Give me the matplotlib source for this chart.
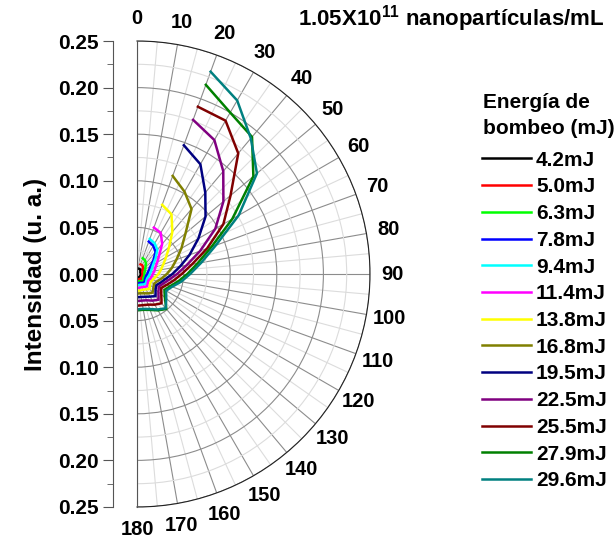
import numpy as np
import matplotlib
matplotlib.use("Agg")
import matplotlib.pyplot as plt
from matplotlib.ticker import FixedLocator, FuncFormatter

plt.rcParams["font.family"] = ["Liberation Sans", "DejaVu Sans"]
plt.rcParams["font.weight"] = "bold"
plt.rcParams["mathtext.fontset"] = "custom"
plt.rcParams["mathtext.rm"] = "Liberation Sans:bold"
plt.rcParams["mathtext.bf"] = "Liberation Sans:bold"

# angle (deg) and intensity (u. a.) for every pump energy
angles = [20, 30, 40, 50, 60, 70, 80, 90, 100, 110, 120, 130, 140, 150, 160, 170, 180]

i_4_2 = [0.006, 0.006, 0.006, 0.005, 0.004, 0.004, 0.004, 0.004, 0.004, 0.004, 0.004, 0.004, 0.004, 0.004, 0.004, 0.004, 0.004]
i_5_0 = [0.011, 0.011, 0.010, 0.008, 0.007, 0.006, 0.006, 0.006, 0.006, 0.006, 0.006, 0.006, 0.007, 0.006, 0.006, 0.006, 0.006]
i_6_3 = [0.018, 0.017, 0.015, 0.012, 0.010, 0.009, 0.008, 0.008, 0.008, 0.008, 0.008, 0.009, 0.010, 0.009, 0.008, 0.008, 0.008]
i_7_8 = [0.037, 0.035, 0.031, 0.023, 0.017, 0.014, 0.012, 0.011, 0.010, 0.010, 0.010, 0.011, 0.012, 0.011, 0.010, 0.010, 0.010]
i_9_4 = [0.040, 0.038, 0.034, 0.026, 0.020, 0.017, 0.015, 0.014, 0.013, 0.012, 0.012, 0.013, 0.014, 0.013, 0.012, 0.012, 0.012]
i_11_4 = [0.053, 0.051, 0.042, 0.031, 0.025, 0.021, 0.019, 0.017, 0.016, 0.015, 0.014, 0.015, 0.017, 0.016, 0.015, 0.015, 0.015]
i_13_8 = [0.079, 0.074, 0.059, 0.045, 0.036, 0.030, 0.026, 0.023, 0.020, 0.018, 0.017, 0.018, 0.021, 0.019, 0.018, 0.018, 0.018]
i_16_8 = [0.112, 0.102, 0.091, 0.068, 0.055, 0.045, 0.038, 0.032, 0.027, 0.023, 0.021, 0.023, 0.026, 0.024, 0.022, 0.021, 0.021]
i_19_5 = [0.147, 0.136, 0.114, 0.096, 0.076, 0.060, 0.047, 0.038, 0.031, 0.027, 0.024, 0.026, 0.031, 0.028, 0.026, 0.025, 0.025]
i_22_5 = [0.176, 0.166, 0.144, 0.121, 0.097, 0.072, 0.054, 0.043, 0.035, 0.030, 0.027, 0.030, 0.036, 0.033, 0.030, 0.029, 0.029]
i_25_5 = [0.191, 0.190, 0.169, 0.131, 0.107, 0.080, 0.060, 0.048, 0.040, 0.034, 0.030, 0.034, 0.041, 0.038, 0.035, 0.034, 0.034]
i_27_9 = [0.216, 0.200, 0.192, 0.163, 0.118, 0.085, 0.066, 0.054, 0.045, 0.038, 0.034, 0.039, 0.049, 0.045, 0.041, 0.039, 0.039]
i_29_6 = [0.231, 0.215, 0.190, 0.168, 0.126, 0.090, 0.070, 0.057, 0.048, 0.040, 0.036, 0.041, 0.048, 0.044, 0.040, 0.038, 0.038]

labels = ["4.2mJ", "5.0mJ", "6.3mJ", "7.8mJ", "9.4mJ", "11.4mJ", "13.8mJ",
          "16.8mJ", "19.5mJ", "22.5mJ", "25.5mJ", "27.9mJ", "29.6mJ"]
series = [i_4_2, i_5_0, i_6_3, i_7_8, i_9_4, i_11_4, i_13_8,
          i_16_8, i_19_5, i_22_5, i_25_5, i_27_9, i_29_6]
colors = ["#000000", "#ff0000", "#00ff00", "#0000ff", "#00ffff", "#ff00ff", "#ffff00",
          "#808000", "#000080", "#800080", "#800000", "#008000", "#008080"]
theta_ticks = list(range(0, 181, 10))

fig = plt.figure(figsize=(6.14, 5.40), dpi=100)

# square box, the half disc is fitted inside it
ax = fig.add_axes([20.5 / 614, 33 / 540, 466 / 614, 466 / 540], projection="polar")
ax.set_theta_zero_location("N")
ax.set_theta_direction(-1)
ax.set_thetamin(0)
ax.set_thetamax(180)
ax.set_ylim(0, 0.25)

theta = np.deg2rad(angles)
for vals, col, lab in zip(series, colors, labels):
    ax.plot(theta, vals, color=col, lw=1.8, label=lab)

ax.set_xticks(np.deg2rad(theta_ticks))
ax.set_xticklabels([])
ax.xaxis.set_minor_locator(FixedLocator(np.deg2rad(np.arange(5, 180, 10))))
ax.set_yticks(np.arange(0.05, 0.251, 0.05))
ax.yaxis.set_minor_locator(FixedLocator(np.arange(0.025, 0.25, 0.05)))
ax.set_yticklabels([])
ax.tick_params(axis="y", which="both", length=0)
ax.tick_params(axis="x", which="major", length=0)
ax.tick_params(axis="x", which="minor", length=4, direction="in", color="#333333")
ax.grid(which="major", color="#8c8c8c", lw=0.8)
ax.grid(which="minor", color="#dcdcdc", lw=0.8)
ax.spines["polar"].set_color("#222222")
ax.spines["start"].set_color("#555555")
ax.spines["end"].set_color("#555555")

# angle labels on a circle just outside the rim
for a in theta_ticks:
    ax.text(np.deg2rad(a), 0.2745, str(a), ha="center", va="center",
            fontsize=14.5, fontweight="bold", clip_on=False)

# radial scale drawn as a vertical axis on the left
ax2 = fig.add_axes([113 / 614, 33 / 540, 0.0001, 466 / 540])
ax2.set_ylim(-0.25, 0.25)
ax2.patch.set_visible(False)
for s in ["top", "right", "bottom"]:
    ax2.spines[s].set_visible(False)
ax2.spines["left"].set_color("#555555")
ax2.set_xticks([])
ax2.set_yticks(np.arange(-0.25, 0.251, 0.05))
ax2.yaxis.set_minor_locator(FixedLocator(np.arange(-0.225, 0.25, 0.05)))
ax2.yaxis.set_major_formatter(FuncFormatter(lambda v, p: f"{abs(v):.2f}"))
ax2.tick_params(axis="y", which="major", length=7, color="#555555", labelsize=15)
ax2.tick_params(axis="y", which="minor", length=4, color="#555555")
ax2.set_ylabel("Intensidad (u. a.)", fontsize=17.5, fontweight="bold", labelpad=8)

fig.text(0.985, 0.965, r"1.05X10$^{11}$ nanopartículas/mL", ha="right", va="center",
         fontsize=16, fontweight="bold")

# legend title as two text lines, entries below
fig.text(483 / 614, 1 - 102 / 540, "Energía de", ha="left", va="center",
         fontsize=15, fontweight="bold")
fig.text(483 / 614, 1 - 128 / 540, "bombeo (mJ)", ha="left", va="center",
         fontsize=15, fontweight="bold")
leg = ax.legend(loc="upper left", bbox_to_anchor=(463 / 614, 1 - 132 / 540),
                bbox_transform=fig.transFigure, frameon=False,
                prop={"size": 15, "weight": "bold"},
                handlelength=2.35, handletextpad=0.25, labelspacing=0.37)

fig.savefig("out.png", dpi=100)
